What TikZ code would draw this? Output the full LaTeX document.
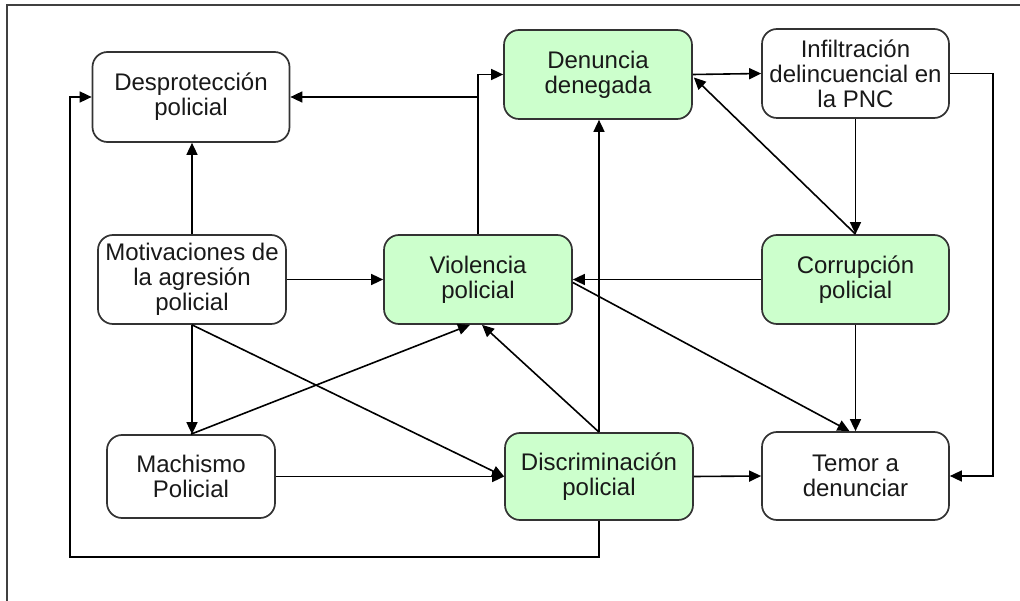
\documentclass[tikz,border=0pt]{standalone}
\usepackage{fontspec}
\setmainfont{Liberation Sans}
\usetikzlibrary{arrows.meta,calc}
\definecolor{boxgreen}{HTML}{CCFFCC}
\definecolor{edgegray}{HTML}{333333}
\tikzset{
  box/.style={draw=edgegray, line width=1.7pt, rounded corners=15pt, fill=white,
    align=center, inner sep=2pt, font=\fontsize{24}{25}\selectfont, text=black!90},
  gbox/.style={box, fill=boxgreen},
  arr/.style={line width=1.6pt, draw=black, -{Triangle[length=12pt,width=11pt]}},
  frameline/.style={line width=1.5pt, draw=black!75}
}
\begin{document}
\begin{tikzpicture}[x=1pt,y=-1pt]
\useasboundingbox (0,0) rectangle (1020,601);
\draw[frameline] (7,601) -- (7,5) -- (1020,5);

\node[box, minimum width=197pt, minimum height=90pt] (desp) at (191,97) {Desprotección\\policial};
\node[gbox, minimum width=188pt, minimum height=89pt] (den) at (598,74.5) {Denuncia\\denegada};
\node[box, minimum width=187pt, minimum height=89pt] (inf) at (855.5,73.5) {Infiltración\\delincuencial en\\la PNC};
\node[box, minimum width=188pt, minimum height=89pt] (mot) at (192,279.5) {Motivaciones de\\la agresión\\policial};
\node[gbox, minimum width=188pt, minimum height=89pt] (vio) at (478,279.5) {Violencia\\policial};
\node[gbox, minimum width=187pt, minimum height=89pt] (cor) at (855.5,279.5) {Corrupción\\policial};
\node[box, minimum width=168pt, minimum height=83pt] (mach) at (191,476.5) {Machismo\\Policial};
\node[gbox, minimum width=188pt, minimum height=87pt] (dis) at (599,476.5) {Discriminación\\policial};
\node[box, minimum width=187pt, minimum height=88pt] (tem) at (855.5,476) {Temor a\\denunciar};

\coordinate (lb) at (70,557);
\coordinate (rt) at (993,476);

\draw[arr] (mot.north) -- (mot.north |- desp.south);
\draw[arr] (mot.east) -- (vio.west);
\draw[arr] (mot.south) -- (mot.south |- mach.north);
\draw[arr] (mot.south) -- (dis.west);
\draw[arr] (mach.north) -- ($(vio.south)+(-8,0)$);
\draw[arr] (mach.east) -- (dis.west);
\draw[arr] (dis.north) -- ($(vio.south)+(4,0)$);
\draw[arr] (dis.north) -- (dis.north |- den.south);
\draw[arr] (dis.east) -- (tem.west);
\draw[arr] (dis.south) |- (lb) |- (desp.west);
\draw[arr] (vio.north) |- (den.west);
\draw[arr] (vio.north |- desp.east) -- (desp.east);
\draw[arr] (den.east) -- (inf.west);
\draw[arr] (cor.north) -- ($(den.east)+(1,3)$);
\draw[arr] (inf.south) -- (cor.north);
\draw[arr] (inf.east) -| (rt) -- (tem.east);
\draw[arr] (cor.west) -- (vio.east);
\draw[arr] ($(vio.east)+(0,3)$) -- ($(tem.north)+(-6,0)$);
\draw[arr] (cor.south) -- (tem.north);
\end{tikzpicture}
\end{document}
